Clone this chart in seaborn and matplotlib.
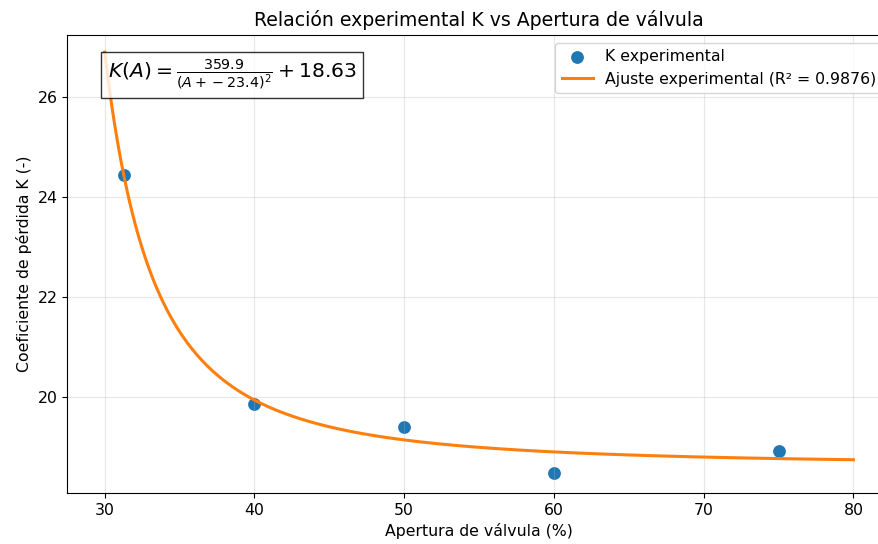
import numpy as np
import pandas as pd
import matplotlib.pyplot as plt
import seaborn as sns

# datos experimentales
apertura = [31.3, 40, 50, 60, 75]
k_exp = [24.44, 19.86, 19.40, 18.48, 18.92]

# parametros del ajuste K(A) = a/(A + b)^2 + c
a_fit = 359.9
b_fit = -23.4
c_fit = 18.63
r2 = 0.9876

A_fit = np.linspace(30, 80, 300)
K_fit = a_fit / (A_fit + b_fit) ** 2 + c_fit

df_exp = pd.DataFrame({'A': apertura, 'K': k_exp})
df_fit = pd.DataFrame({'A': A_fit, 'K': K_fit})

plt.rcParams['font.size'] = 11.3

fig = plt.figure(figsize=(8.79, 5.44), dpi=100)
# el eje derecho queda fuera de la imagen, como en el original recortado
ax = fig.add_axes([0.0765, 0.094, 0.937, 0.842])

sns.scatterplot(data=df_exp, x='A', y='K', ax=ax, color='#1f77b4', s=85,
                linewidth=0, label='K experimental')
sns.lineplot(data=df_fit, x='A', y='K', ax=ax, color='#ff7f0e', linewidth=2.2,
             label=f'Ajuste experimental (R² = {r2})')

ax.set_xlim(27.5, 82.5)
ax.set_ylim(18.08, 27.24)
ax.set_xticks([30, 40, 50, 60, 70, 80])
ax.set_yticks([20, 22, 24, 26])
ax.tick_params(labelsize=11.3)
ax.grid(True, alpha=0.3)

ax.set_title('Relación experimental K vs Apertura de válvula', fontsize=13.6)
ax.set_xlabel('Apertura de válvula (%)', fontsize=11.3)
ax.set_ylabel('Coeficiente de pérdida K (-)', fontsize=11.3)

ax.text(0.049, 0.95,
        r'$K(A) = \frac{%.1f}{(A + %.1f)^2} + %.2f$' % (a_fit, b_fit, c_fit),
        transform=ax.transAxes, fontsize=14.7, va='top', ha='left',
        bbox=dict(boxstyle='square', facecolor='white', edgecolor='black', alpha=0.8))

ax.legend(loc='upper right', fontsize=11.3)

fig.savefig('out.png', dpi=100)
